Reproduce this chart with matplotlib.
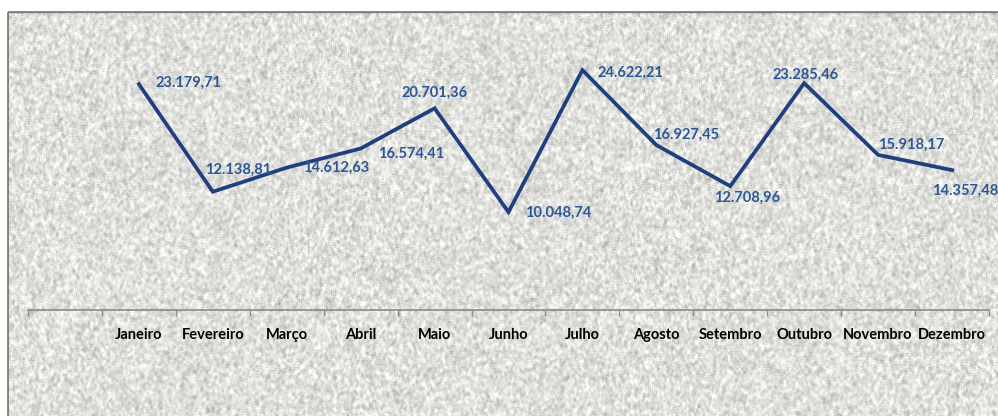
import numpy as np
import matplotlib.pyplot as plt
from matplotlib.patches import Rectangle

meses = ["Janeiro", "Fevereiro", "Março", "Abril", "Maio", "Junho",
         "Julho", "Agosto", "Setembro", "Outubro", "Novembro", "Dezembro"]
valores = [23179.71, 12138.81, 14612.63, 16574.41, 20701.36, 10048.74,
           24622.21, 16927.45, 12708.96, 23285.46, 15918.17, 14357.48]
rotulos = ["23.179,71", "12.138,81", "14.612,63", "16.574,41", "20.701,36", "10.048,74",
           "24.622,21", "16.927,45", "12.708,96", "23.285,46", "15.918,17", "14.357,48"]

# deslocamento dos rótulos (pixels) em relação ao ponto
desloc = [(17, 1), (-8, 22), (16, 0), (17, -5), (-33, 16), (17, -1),
          (15, -3), (-3, 10), (-16, -12), (-32, 8), (0, 10), (-20, -21)]

cor_linha = "#1f3f7f"
cor_texto = "#2b5797"

W, H = 998, 416
fig = plt.figure(figsize=(W / 100, H / 100), dpi=100)
fig.patch.set_facecolor("white")

# fundo com textura de granito
rng = np.random.default_rng(7)
ruido = rng.random((H, W))
k = np.ones(3) / 3
ruido = np.apply_along_axis(lambda r: np.convolve(r, k, mode="same"), 1, ruido)
ruido = np.apply_along_axis(lambda c: np.convolve(c, np.ones(4) / 4, mode="same"), 0, ruido)
ruido = (ruido - ruido.mean()) / ruido.std()
cinza = np.clip(0.875 + 0.055 * ruido + 0.02 * rng.standard_normal((H, W)), 0.62, 1.0)
textura = np.dstack([cinza, cinza, cinza * 0.985])

bg = fig.add_axes([0, 0, 1, 1])
bg.set_xlim(0, W)
bg.set_ylim(H, 0)
bg.imshow(textura, extent=(8, W + 5, H + 5, 12), aspect="auto", zorder=0)
bg.add_patch(Rectangle((8, 12), W, H, fill=False, edgecolor="#76766c", linewidth=1.2, zorder=1))
bg.axis("off")

# eixo do gráfico
ax = fig.add_axes([28 / W, 1 - 310 / H, (989 - 28) / W, (310 - 17.7) / H])
ax.patch.set_alpha(0)
x = np.arange(1, len(meses) + 1)
ax.plot(x, valores, color=cor_linha, linewidth=2.7, solid_joinstyle="miter")

for xi, v, rot, (dx, dy) in zip(x, valores, rotulos, desloc):
    ax.annotate(rot, (xi, v), xytext=(dx * 0.72, dy * 0.72), textcoords="offset points",
                ha="left", va="center", color=cor_texto, fontsize=10.5,
                fontweight="bold", family="Lato")

ax.set_xlim(-0.5, 12.5)
ax.set_ylim(0, 30000)
ax.set_xticks(np.arange(-0.5, 13, 1))
ax.set_xticklabels([])
ax.tick_params(axis="x", which="major", length=4, color="#8a8a8a", width=1)
ax.set_xticks(x, minor=True)
ax.set_xticklabels(meses, minor=True, fontsize=10.5, fontweight="bold", family="Lato")
ax.tick_params(axis="x", which="minor", length=0, pad=13)
ax.set_yticks([])
for s in ["top", "right", "left"]:
    ax.spines[s].set_visible(False)
ax.spines["bottom"].set_color("#8a8a8a")
ax.spines["bottom"].set_linewidth(1.2)

fig.savefig("out.png", dpi=100)
